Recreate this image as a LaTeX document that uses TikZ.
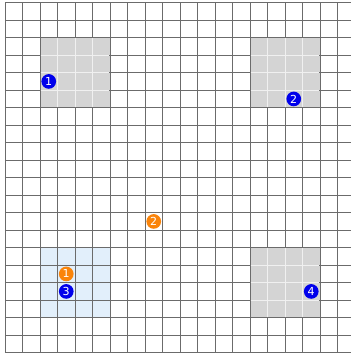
\documentclass[tikz,border=0pt]{standalone}
\usepackage{fontspec}
\setmainfont{DejaVu Sans}
\definecolor{mblue}{RGB}{0,0,235}
\definecolor{morange}{RGB}{250,132,10}
\definecolor{zblue}{RGB}{226,239,251}
\begin{document}
\begin{tikzpicture}[x=0.5cm,y=0.5cm,
  gridline/.style={draw=black!58, line width=0.45pt},
  innerline/.style={draw=black!6, line width=0.6pt},
  zonegray/.style={fill=black!17},
  zoneblue/.style={fill=zblue},
  marker/.style={circle, inner sep=0pt, minimum size=0.42cm, text=white,
    font=\fontsize{9}{9}\selectfont},
  bluemark/.style={marker, fill=mblue},
  orangemark/.style={marker, fill=morange}]
\useasboundingbox (-0.2857,-0.189) rectangle (19.771,20.154);
\clip (-0.2857,-0.189) rectangle (19.771,20.154);
% zones
\fill[zonegray] (2,14) rectangle (6,18);
\fill[zonegray] (14,14) rectangle (18,18);
\fill[zonegray] (14,2) rectangle (18,6);
\fill[zoneblue] (2,2) rectangle (6,6);
% grid
\draw[gridline, step=0.5cm] (0,0) grid (20,20);
% light inner lines of the gray zones
\foreach \zx/\zy in {2/14,14/14,14/2}{
  \foreach \k in {1,2,3}{
    \draw[innerline] (\zx+\k,\zy+0.03) -- (\zx+\k,\zy+3.97);
    \draw[innerline] (\zx+0.03,\zy+\k) -- (\zx+3.97,\zy+\k);
  }
}
% markers
\node[bluemark] (b1) at (2.5,15.5) {1};
\node[bluemark] (b2) at (16.5,14.5) {2};
\node[orangemark] (o1) at (3.5,4.5) {1};
\node[bluemark] (b3) at (3.5,3.5) {3};
\node[bluemark] (b4) at (17.5,3.5) {4};
\node[orangemark] (o2) at (8.5,7.5) {2};
\end{tikzpicture}
\end{document}
